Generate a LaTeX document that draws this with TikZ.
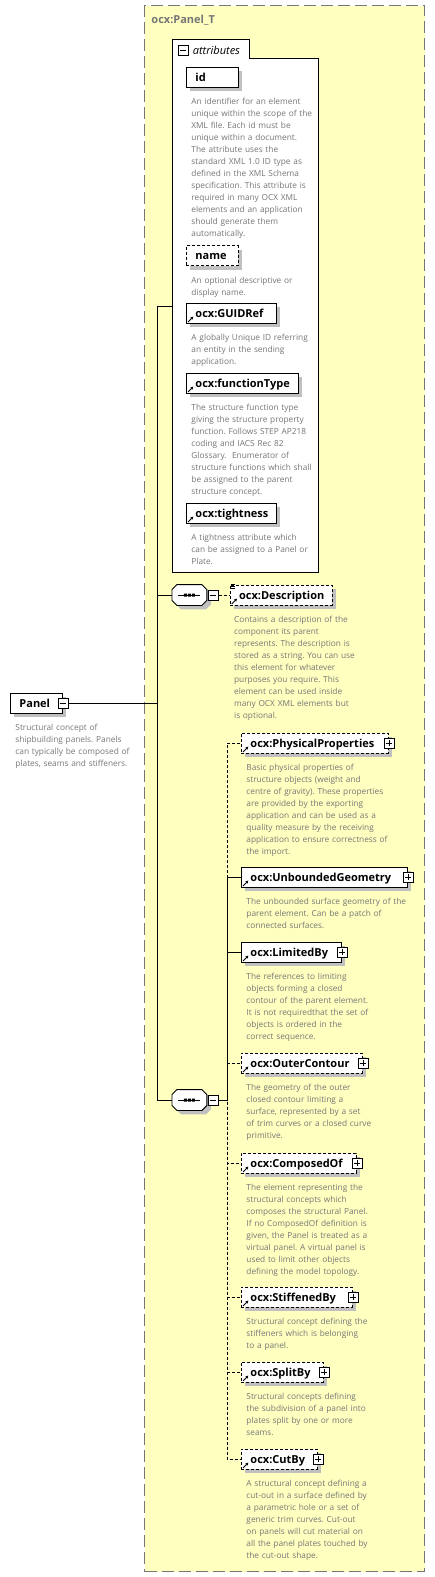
\documentclass[tikz,border=0pt]{standalone}
\usepackage{fontspec}
\setmainfont{Open Sans}
\usepackage{xcolor}
\usepackage{tikz}
\usetikzlibrary{positioning, shapes, arrows, arrows.meta, shadows}

\definecolor{fondtype}{RGB}{255,255,192}
\definecolor{gristexte}{RGB}{118,118,118}
\definecolor{grisombre}{RGB}{192,192,192}
\frenchspacing

\begin{document}
\begin{tikzpicture}[x=1pt, y=-1pt, line width=0.9pt, >=latex']
        % Définition des styles
        \tikzstyle{ombre} = [drop shadow={shadow xshift=4pt, shadow yshift=-4pt, fill=grisombre, opacity=1}]
        \tikzstyle{elem} = [draw, fill=white, anchor=west, minimum height=20pt, inner xsep=9pt, inner ysep=0pt, text height=9pt, text depth=1pt, align=left, font=\bfseries\fontsize{11}{12}\selectfont, ombre]
        \tikzstyle{opt} = [dash pattern=on 3pt off 2pt]
        \tikzstyle{desc} = [anchor=base west, inner sep=0pt, text width=200pt, align=left, text=gristexte, font=\fontsize{8.3}{12}\selectfont]
        \tikzstyle{plusbox} = [draw, fill=white, line width=0.8pt, minimum size=10pt, inner sep=0pt, path picture={\draw ([xshift=2pt]path picture bounding box.west) -- ([xshift=-2pt]path picture bounding box.east) ([yshift=-2pt]path picture bounding box.north) -- ([yshift=2pt]path picture bounding box.south);}]
        \tikzstyle{moinsbox} = [draw, fill=white, line width=0.8pt, minimum size=10pt, inner sep=0pt, path picture={\draw ([xshift=2pt]path picture bounding box.west) -- ([xshift=-2pt]path picture bounding box.east);}]
        \tikzstyle{seq} = [rectangle, minimum width=34pt, minimum height=20pt, inner sep=0pt, anchor=west]
        \tikzstyle{octo} = [fill=white, ombre]
        \tikzstyle{icone} = [-{Latex[length=3pt, width=3.2pt]}, line width=0.9pt]

        % Fond du type complexe
        \useasboundingbox (0,0) rectangle (435,1577);
        \node [draw=gristexte, fill=fondtype, line width=1pt, dash pattern=on 12pt off 5pt, anchor=north west, minimum width=280pt, minimum height=1566pt, inner sep=0pt] (panelT) at (144,5) {};
        \node [anchor=west, inner sep=0pt, text=gristexte, font=\bfseries\fontsize{11}{12}\selectfont] (titre) at (151,20) {ocx:Panel\_T};

        % Groupe des attributs
        \filldraw [fill=white] (172,572) -- (172,39) -- (249,39) -- (249,58) -- (318,58) -- (318,572) -- cycle;
        \node [moinsbox] (attrM) at (183,50) {};
        \node [right=4pt of attrM, inner sep=0pt, font=\itshape\fontsize{11}{12}\selectfont] (attrL) {attributes};
        \coordinate (attrIn) at (172,306);

        \node [elem, text width=34pt] (id) at (186,77) {id};
        \node [desc] (idD) at ([xshift=5pt, yshift=-17.5pt]id.south west) {An identifier for an element\\unique within the scope of the\\XML file. Each id must be\\unique within a document.\\The attribute uses the\\standard XML 1.0 ID type as\\defined in the XML Schema\\specification. This attribute is\\required in many OCX XML\\elements and an application\\should generate them\\automatically.};

        \node [elem, opt, text width=34pt] (nom) at (186,255.5) {name};
        \node [desc] (nomD) at ([xshift=5pt, yshift=-17.5pt]nom.south west) {An optional descriptive or\\display name.};

        \node [elem, text width=72pt] (guid) at (186,313) {ocx:GUIDRef};
        \node [desc] (guidD) at ([xshift=5pt, yshift=-17.5pt]guid.south west) {A globally Unique ID referring\\an entity in the sending\\application.};

        \node [elem, text width=94pt] (ftype) at (186,383) {ocx:functionType};
        \node [desc] (ftypeD) at ([xshift=5pt, yshift=-17.5pt]ftype.south west) {The structure function type\\giving the structure property\\function. Follows STEP AP218\\coding and IACS Rec 82\\Glossary.\ \ Enumerator of\\structure functions which shall\\be assigned to the parent\\structure concept.};

        \node [elem, text width=72pt] (tight) at (186,513) {ocx:tightness};
        \node [desc] (tightD) at ([xshift=5pt, yshift=-17.5pt]tight.south west) {A tightness attribute which\\can be assigned to a Panel or\\Plate.};

        % Élément racine
        \node [elem, text width=34pt] (panel) at (10,703) {Panel};
        \node [moinsbox] (panelM) at (panel.east) {};
        \node [desc] (panelD) at ([xshift=5pt, yshift=-17.5pt]panel.south west) {Structural concept of\\shipbuilding panels. Panels\\can typically be composed of\\plates, seams and stiffeners.};

        % Première séquence
        \node [seq] (seq1) at (172,595) {};
        \filldraw [octo] ([xshift=5pt]seq1.north west) -- ([xshift=-5pt]seq1.north east) -- ([yshift=-5pt]seq1.north east) -- ([yshift=5pt]seq1.south east) -- ([xshift=-5pt]seq1.south east) -- ([xshift=5pt]seq1.south west) -- ([yshift=5pt]seq1.south west) -- ([yshift=-5pt]seq1.north west) -- cycle;
        \node [moinsbox, right=1pt of seq1] (seq1M) {};
        \node [elem, opt, text width=84pt, right=11pt of seq1M] (descr) {ocx:Description};
        \node [desc] (descrD) at ([xshift=4pt, yshift=-17.5pt]descr.south west) {Contains a description of the\\component its parent\\represents. The description is\\stored as a string. You can use\\this element for whatever\\purposes you require. This\\element can be used inside\\many OCX XML elements but\\is optional.};

        % Deuxième séquence
        \node [seq] (seq2) at (172,1100) {};
        \filldraw [octo] ([xshift=5pt]seq2.north west) -- ([xshift=-5pt]seq2.north east) -- ([yshift=-5pt]seq2.north east) -- ([yshift=5pt]seq2.south east) -- ([xshift=-5pt]seq2.south east) -- ([xshift=5pt]seq2.south west) -- ([yshift=5pt]seq2.south west) -- ([yshift=-5pt]seq2.north west) -- cycle;
        \node [moinsbox, right=1pt of seq2] (seq2M) {};
        \coordinate (fourche) at (227,1100);

        \node [elem, opt, text width=129pt] (phys) at (241,743) {ocx:PhysicalProperties};
        \node [plusbox] (physP) at (phys.east) {};
        \node [desc] (physD) at ([xshift=5pt, yshift=-17.5pt]phys.south west) {Basic physical properties of\\structure objects (weight and\\centre of gravity). These properties\\are provided by the exporting\\application and can be used as a\\quality measure by the receiving\\application to ensure correctness of\\the import.};

        \node [elem, text width=148pt] (unb) at (241,877) {ocx:UnboundedGeometry};
        \node [plusbox] (unbP) at (unb.east) {};
        \node [desc] (unbD) at ([xshift=5pt, yshift=-17.5pt]unb.south west) {The unbounded surface geometry of the\\parent element. Can be a patch of\\connected surfaces.};

        \node [elem, text width=82pt] (lim) at (241,952) {ocx:LimitedBy};
        \node [plusbox] (limP) at (lim.east) {};
        \node [desc] (limD) at ([xshift=5pt, yshift=-17.5pt]lim.south west) {The references to limiting\\objects forming a closed\\contour of the parent element.\\It is not requiredthat the set of\\objects is ordered in the\\correct sequence.};

        \node [elem, opt, text width=103pt] (outer) at (241,1063) {ocx:OuterContour};
        \node [plusbox] (outerP) at (outer.east) {};
        \node [desc] (outerD) at ([xshift=5pt, yshift=-17.5pt]outer.south west) {The geometry of the outer\\closed contour limiting a\\surface, represented by a set\\of trim curves or a closed curve\\primitive.};

        \node [elem, opt, text width=97pt] (comp) at (241,1163) {ocx:ComposedOf};
        \node [plusbox] (compP) at (comp.east) {};
        \node [desc] (compD) at ([xshift=5pt, yshift=-17.5pt]comp.south west) {The element representing the\\structural concepts which\\composes the structural Panel.\\If no ComposedOf definition is\\given, the Panel is treated as a\\virtual panel. A virtual panel is\\used to limit other objects\\defining the model topology.};

        \node [elem, opt, text width=93pt] (stiff) at (241,1297) {ocx:StiffenedBy};
        \node [plusbox] (stiffP) at (stiff.east) {};
        \node [desc] (stiffD) at ([xshift=5pt, yshift=-17.5pt]stiff.south west) {Structural concept defining the\\stiffeners which is belonging\\to a panel.};

        \node [elem, opt, text width=64pt] (split) at (241,1372) {ocx:SplitBy};
        \node [plusbox] (splitP) at (split.east) {};
        \node [desc] (splitD) at ([xshift=5pt, yshift=-17.5pt]split.south west) {Structural concepts defining\\the subdivision of a panel into\\plates split by one or more\\seams.};

        \node [elem, opt, text width=58pt] (cut) at (241,1459) {ocx:CutBy};
        \node [plusbox] (cutP) at (cut.east) {};
        \node [desc] (cutD) at ([xshift=5pt, yshift=-17.5pt]cut.south west) {A structural concept defining a\\cut-out in a surface defined by\\a parametric hole or a set of\\generic trim curves. Cut-out\\on panels will cut material on\\all the panel plates touched by\\the cut-out shape.};

        % Symboles des séquences
        \draw ([xshift=-11pt]seq1.center) -- ([xshift=11pt]seq1.center);
        \fill ([xshift=-5.5pt, yshift=1.5pt]seq1.center) rectangle ++(3,3) ++(1,-3) rectangle ++(3,3) ++(1,-3) rectangle ++(3,3);
        \draw ([xshift=-11pt]seq2.center) -- ([xshift=11pt]seq2.center);
        \fill ([xshift=-5.5pt, yshift=1.5pt]seq2.center) rectangle ++(3,3) ++(1,-3) rectangle ++(3,3) ++(1,-3) rectangle ++(3,3);

        % Icônes de référence
        \draw [icone] ([xshift=2pt, yshift=1.5pt]guid.south west) -- ++(5.5,-5.5);
        \draw [icone] ([xshift=2pt, yshift=1.5pt]ftype.south west) -- ++(5.5,-5.5);
        \draw [icone] ([xshift=2pt, yshift=1.5pt]tight.south west) -- ++(5.5,-5.5);
        \draw [icone] ([xshift=2pt, yshift=1.5pt]descr.south west) -- ++(5.5,-5.5);
        \draw [icone] ([xshift=2pt, yshift=1.5pt]phys.south west) -- ++(5.5,-5.5);
        \draw [icone] ([xshift=2pt, yshift=1.5pt]unb.south west) -- ++(5.5,-5.5);
        \draw [icone] ([xshift=2pt, yshift=1.5pt]lim.south west) -- ++(5.5,-5.5);
        \draw [icone] ([xshift=2pt, yshift=1.5pt]outer.south west) -- ++(5.5,-5.5);
        \draw [icone] ([xshift=2pt, yshift=1.5pt]comp.south west) -- ++(5.5,-5.5);
        \draw [icone] ([xshift=2pt, yshift=1.5pt]stiff.south west) -- ++(5.5,-5.5);
        \draw [icone] ([xshift=2pt, yshift=1.5pt]split.south west) -- ++(5.5,-5.5);
        \draw [icone] ([xshift=2pt, yshift=1.5pt]cut.south west) -- ++(5.5,-5.5);
        \draw [line width=0.6pt] ([xshift=1pt]descr.north west) -- ++(4,0) ++(-4,2) -- ++(4,0) ++(-4,2) -- ++(4,0);

        % Connexions
        \coordinate (busHaut) at (157,306);
        \coordinate (busBas) at (157,1100);
        \draw (busHaut) -- (busBas);
        \draw (busHaut) -- (attrIn);
        \draw (panelM.east) -- (panelM.east -| busHaut);
        \draw (busHaut |- seq1.west) -- (seq1.west);
        \draw (busBas) -- (seq2.west);
        \draw [opt] (seq1M.east) -- (descr.west);

        \draw [opt] (seq2M.east) -- (fourche) |- (phys.west);
        \draw [opt] (seq2M.east) -- (fourche) |- (outer.west);
        \draw [opt] (seq2M.east) -- (fourche) |- (comp.west);
        \draw [opt] (seq2M.east) -- (fourche) |- (stiff.west);
        \draw [opt] (seq2M.east) -- (fourche) |- (split.west);
        \draw [opt] (seq2M.east) -- (fourche) |- (cut.west);
        \draw (seq2M.east) -- (fourche) |- (unb.west);
        \draw (seq2M.east) -- (fourche) |- (lim.west);

\end{tikzpicture}
\end{document}
